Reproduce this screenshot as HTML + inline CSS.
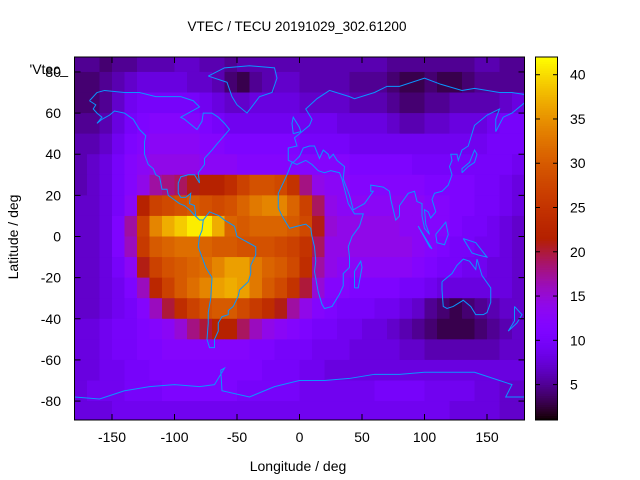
<!DOCTYPE html>
<html><head><meta charset="utf-8"><style>
body{margin:0;background:#fff;}
svg{display:block;font-family:"Liberation Sans",sans-serif;}
</style></head><body>
<svg id="chart" width="640" height="480" viewBox="0 0 640 480">
<defs><clipPath id="pc"><rect x="74.5" y="57" width="450" height="363"/></clipPath></defs>
<text x="297" y="31" font-size="13.5" text-anchor="middle">VTEC / TECU 20191029_302.61200</text>
<g id="heat" clip-path="url(#pc)"></g>
<g id="coast" clip-path="url(#pc)"></g>
<rect x="74.5" y="57" width="450" height="363" fill="none" stroke="#000" stroke-width="1"/>
<g id="axes" font-size="14"></g>
<g id="cbar"></g>
<text x="68" y="74" font-size="14" text-anchor="end">'Vtec_</text>
<text x="298" y="471" font-size="14" text-anchor="middle">Longitude / deg</text>
<text transform="translate(18,237) rotate(-90)" font-size="14" text-anchor="middle">Latitude / deg</text>
</svg>
<script>
const lonCenters=[-175,-165,-155,-145,-135,-125,-115,-105,-95,-85,-75,-65,-55,-45,-35,-25,-15,-5,5,15,25,35,45,55,65,75,85,95,105,115,125,135,145,155,165,175];
const latCenters=[85,75,65,55,45,35,25,15,5,-5,-15,-25,-35,-45,-55,-65,-75,-85];
const vtec=[
[5,5,4,5,5,6,6,6,7,7,6,6,5,6,6,6,6,6,6,6,6,6,6,6,6,5,5,5,5,5,5,5,6,6,5,5],
[4,4,5,6,7,8,8,8,8,7,7,6,4,3,5,6,7,7,6,6,6,6,5,5,5,4,3,3,4,3,3,4,5,5,5,5],
[4,4,5,7,9,10,10,10,10,10,9,8,7,7,8,8,8,8,7,7,7,7,6,6,6,5,4,4,5,5,6,6,6,6,7,8],
[5,5,6,8,10,11,12,12,12,12,11,10,9,9,9,9,9,9,9,9,9,8,8,8,8,7,6,6,7,7,8,8,8,9,10,10],
[6,6,7,9,11,12,13,13,13,13,12,12,11,11,11,11,11,11,10,10,10,10,9,9,9,9,9,9,9,9,9,9,9,10,10,10],
[6,7,8,10,12,13,14,14,14,14,13,13,13,12,12,12,12,12,12,12,12,12,11,11,11,11,11,10,10,10,10,10,10,10,10,9],
[6,7,8,10,12,14,17,18,19,21,22,22,24,27,29,29,28,25,18,14,13,13,12,12,12,12,12,12,11,11,11,11,10,10,9,8],
[7,7,8,10,13,22,27,28,29,30,29,28,29,31,33,34,34,31,27,19,14,13,13,13,13,13,13,13,12,12,11,11,10,10,9,8],
[7,7,8,11,17,27,34,37,39,41,41,37,31,30,31,31,31,30,28,21,15,14,14,14,14,14,13,13,12,12,11,10,10,9,8,7],
[7,7,8,11,16,26,30,31,32,32,31,30,30,29,29,29,28,27,25,19,14,14,14,14,14,14,14,13,12,11,10,10,9,9,8,7],
[7,7,8,10,13,21,27,29,30,31,32,34,36,36,33,31,30,28,24,17,14,13,13,13,13,13,13,12,11,10,10,9,9,8,8,7],
[7,7,8,9,11,16,23,27,30,32,34,36,37,36,33,30,28,25,20,15,12,12,11,11,11,11,10,10,9,8,8,8,8,8,8,7],
[7,7,8,9,10,12,16,20,24,27,29,30,30,28,26,24,21,17,14,12,11,10,10,10,9,9,8,7,5,4,3,4,5,6,7,7],
[8,8,9,10,10,11,12,13,15,18,20,22,22,19,16,14,13,12,11,10,10,9,9,8,8,7,6,5,4,3,3,3,4,5,6,7],
[8,8,9,10,10,11,11,12,12,12,12,12,12,12,11,11,10,10,10,9,9,9,8,8,8,8,7,7,6,6,6,6,6,6,7,7],
[8,8,9,9,10,10,11,11,11,11,11,11,11,11,11,10,10,10,9,9,8,8,8,8,8,8,8,8,8,8,8,8,8,8,8,8],
[8,9,9,9,10,10,10,11,11,11,11,11,11,10,10,10,10,10,9,9,9,9,9,9,10,10,10,10,9,9,9,9,8,8,7,7],
[8,8,8,9,9,9,9,9,9,9,9,9,9,9,9,9,9,9,9,9,9,9,9,9,9,9,9,9,9,9,8,8,8,8,7,7]];
const xTicks=[-150,-100,-50,0,50,100,150];
const yTicks=[80,60,40,20,0,-20,-40,-60,-80];
const cbTicks=[5,10,15,20,25,30,35,40];
const cbMin=1, cbMax=42;
const NS='http://www.w3.org/2000/svg';
const X=lon=>74.5+(lon+180)*1.25;
const Y=lat=>236.5-lat*2.057;
const CB=v=>420-(v-cbMin)/(cbMax-cbMin)*363;
function col(v){let x=(v-cbMin)/(cbMax-cbMin);x=Math.max(0,Math.min(1,x));
 const r=Math.sqrt(x),g=x*x*x,b=Math.max(0,Math.sin(2*Math.PI*x));
 return `rgb(${Math.round(r*255)},${Math.round(g*255)},${Math.round(b*255)})`;}
function mk(t,a,p){const e=document.createElementNS(NS,t);for(const k in a)e.setAttribute(k,a[k]);p.appendChild(e);return e;}
const heat=document.getElementById('heat');
latCenters.forEach((la,i)=>lonCenters.forEach((lo,j)=>{
 const r=mk('rect',{x:X(lo-5),y:Y(la+5),width:X(lo+5)-X(lo-5)+0.5,height:Y(la-5)-Y(la+5)+0.5,fill:col(vtec[i][j])},heat);
 
 
}));
const coasts=[
[[-168,66],[-162,70],[-156,71],[-140,70],[-128,70],[-115,68],[-95,68],[-85,66],[-80,63],[-95,58],[-92,57],[-82,52],[-78,56],[-77,60],[-70,60],[-65,58],[-60,55],[-56,52],[-66,45],[-70,42],[-76,38],[-76,35],[-81,31],[-80,26],[-82,28],[-84,30],[-89,30],[-95,29],[-97,26],[-97,21],[-95,19],[-91,19],[-87,21],[-88,16],[-84,15],[-83,10],[-80,8],[-77,8],[-80,8],[-85,11],[-88,13],[-92,15],[-96,16],[-105,20],[-106,23],[-110,23],[-112,29],[-115,30],[-117,33],[-121,35],[-124,40],[-124,46],[-123,49],[-128,52],[-133,57],[-140,60],[-148,61],[-152,59],[-158,57],[-162,55],[-158,58],[-162,60],[-165,62],[-163,64],[-168,66]],
[[-77,8],[-72,12],[-64,10],[-60,8],[-52,5],[-50,0],[-44,-2],[-35,-5],[-35,-9],[-39,-14],[-39,-18],[-41,-22],[-48,-26],[-49,-29],[-53,-34],[-57,-36],[-57,-38],[-62,-39],[-65,-42],[-65,-46],[-68,-50],[-68,-54],[-72,-54],[-74,-50],[-73,-42],[-73,-37],[-71,-30],[-70,-20],[-75,-15],[-78,-10],[-81,-5],[-80,0],[-78,3],[-77,8]],
[[-6,36],[-10,30],[-17,21],[-17,14],[-14,10],[-8,4],[-2,5],[5,6],[9,4],[10,0],[12,-5],[13,-12],[12,-17],[15,-27],[18,-33],[20,-35],[26,-34],[32,-28],[35,-24],[35,-18],[40,-15],[40,-10],[39,-5],[42,0],[48,5],[51,11],[44,11],[39,16],[34,28],[32,31],[25,32],[20,31],[15,32],[10,35],[5,37],[-2,35],[-6,36]],
[[-9,37],[-9,43],[-2,44],[-4,48],[2,51],[8,54],[10,57],[5,62],[14,67],[24,71],[40,68],[44,67],[60,70],[70,73],[80,73],[100,77],[113,74],[130,71],[140,72],[160,70],[170,70],[180,69]],
[[180,65],[170,60],[163,58],[157,51],[157,57],[160,62],[150,59],[140,54],[135,44],[130,42],[127,37],[126,40],[121,40],[122,37],[120,34],[122,30],[119,25],[114,22],[108,21],[106,18],[109,12],[105,9],[103,12],[100,13],[101,6],[104,1],[100,4],[98,10],[98,16],[94,17],[92,22],[87,21],[80,15],[80,10],[77,8],[73,18],[72,22],[67,24],[57,25],[57,22],[59,22],[52,16],[43,13],[40,20],[35,28],[36,34],[30,37],[27,40],[24,38],[23,40],[19,42],[16,38],[12,44],[8,44],[3,43],[0,39],[-5,36],[-9,37]],
[[114,-22],[114,-26],[115,-34],[118,-35],[123,-34],[131,-31],[137,-34],[141,-38],[147,-38],[150,-37],[153,-32],[153,-25],[146,-19],[142,-11],[141,-16],[136,-12],[131,-11],[126,-14],[122,-18],[114,-22]],
[[-73,78],[-60,82],[-40,83],[-20,82],[-18,77],[-22,70],[-32,68],[-42,60],[-50,64],[-54,68],[-58,75],[-73,78]],
[[-180,-78],[-160,-79],[-150,-77],[-140,-75],[-120,-73],[-100,-72],[-80,-73],[-68,-72],[-60,-64],[-63,-65],[-62,-75],[-40,-78],[-20,-73],[0,-70],[20,-70],[40,-69],[60,-67],[80,-67],[100,-66],[120,-66],[140,-66],[160,-70],[170,-72],[165,-78],[180,-78]],
[[-5,50],[1,51],[0,53],[-3,56],[-5,58],[-6,55],[-5,50]],
[[44,-25],[47,-25],[50,-15],[49,-12],[44,-17],[44,-25]],
[[130,31],[135,34],[140,36],[142,40],[140,42],[136,36],[130,33],[130,31]],
[[109,1],[117,7],[119,1],[116,-4],[110,-3],[109,1]],
[[95,5],[106,-6],[104,-5],[95,5]],
[[131,-1],[141,-3],[150,-10],[143,-9],[138,-8],[131,-1]],
[[172,-34],[178,-38],[174,-42],[167,-46],[172,-41],[172,-34]]];
const coast=document.getElementById('coast');
coasts.forEach(c=>{const p=mk('polyline',{points:c.map(q=>X(q[0])+','+Y(q[1])).join(' '),fill:'none',stroke:'#0a96ff','stroke-width':1},coast);
 
 });
const ax=document.getElementById('axes');
xTicks.forEach(v=>{const x=X(v);
 mk('line',{x1:x,y1:420,x2:x,y2:414,stroke:'#000'},ax);mk('line',{x1:x,y1:57,x2:x,y2:63,stroke:'#000'},ax);
 const t=mk('text',{x:x,y:442,'text-anchor':'middle'},ax);t.textContent=v;
 
 });
yTicks.forEach(v=>{const y=Y(v);
 mk('line',{x1:74.5,y1:y,x2:80.5,y2:y,stroke:'#000'},ax);mk('line',{x1:524.5,y1:y,x2:518.5,y2:y,stroke:'#000'},ax);
 const t=mk('text',{x:61,y:y+5,'text-anchor':'end'},ax);t.textContent=v;
 
 });
const cb=document.getElementById('cbar');
for(let v=cbMin;v<cbMax;v+=0.25){mk('rect',{x:535.5,y:CB(v+0.25),width:22,height:CB(v)-CB(v+0.25)+0.4,fill:col(v+0.125)},cb);}
mk('rect',{x:535.5,y:57,width:22,height:363,fill:'none',stroke:'#000'},cb);
cbTicks.forEach(v=>{const y=CB(v);
 mk('line',{x1:535.5,y1:y,x2:540,y2:y,stroke:'#000'},cb);mk('line',{x1:557.5,y1:y,x2:553,y2:y,stroke:'#000'},cb);
 const t=mk('text',{x:570,y:y+5,'font-size':14},cb);t.textContent=v;
 
 });
</script>
</body></html>
